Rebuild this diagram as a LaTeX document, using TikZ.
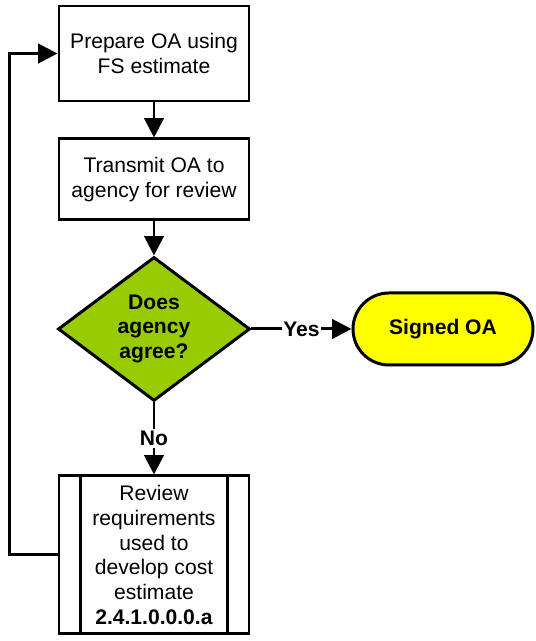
\documentclass[tikz,border=0pt]{standalone}
\usepackage{fontspec}
\setmainfont{Liberation Sans}
\usetikzlibrary{arrows.meta,positioning,shapes.geometric}
\definecolor{Leaf}{HTML}{99CC00}
\definecolor{Lemon}{HTML}{FFFF00}
\tikzset{
  stepbox/.style={draw,line width=1.7pt,fill=white,minimum width=3.8cm,
    align=center,font=\fontsize{12}{14.2}\selectfont,inner sep=2pt},
  decide/.style={diamond,draw,line width=1.7pt,fill=Leaf,minimum width=3.84cm,
    minimum height=2.88cm,aspect=1.33,inner sep=0pt,align=center,
    font=\fontsize{12}{14.2}\selectfont\bfseries},
  terminal/.style={draw,line width=1.7pt,fill=Lemon,rounded corners=.72cm,
    minimum width=3.6cm,minimum height=1.44cm,align=center,
    font=\fontsize{12}{14.2}\selectfont\bfseries},
  arrow/.style={-{Triangle[length=11pt,width=11pt]},line width=1.7pt},
  lbl/.style={fill=white,inner sep=1pt,font=\fontsize{12}{14.2}\selectfont\bfseries}
}
\begin{document}
\begin{tikzpicture}[node distance=.7cm]
  \useasboundingbox (0,0) rectangle (10.7,-12.82);
  \node[stepbox,minimum height=1.9cm] (prep) at (3.08,-1.07) {Prepare OA using\\FS estimate};
  \node[stepbox,minimum height=1.62cm,below=of prep] (send) {Transmit OA to\\agency for review};
  \node[decide,below=.68cm of send] (agree) {Does\\agency\\agree?};
  \node[terminal,right=2cm of agree] (signed) {Signed OA};
  \node[stepbox,minimum height=3.16cm,below=1.44cm of agree] (review)
    {Review\\requirements\\used to\\develop cost\\estimate\\\textbf{2.4.1.0.0.0.a}};
  \draw[line width=1.7pt] ([xshift=.46cm]review.north west) -- ([xshift=.46cm]review.south west);
  \draw[line width=1.7pt] ([xshift=-.46cm]review.north east) -- ([xshift=-.46cm]review.south east);

  \draw[arrow] (prep)--(send); \draw[arrow] (send)--(agree);
  \draw[arrow] (agree)--node[lbl] {Yes} (signed);
  \draw[arrow] (agree)--node[lbl] {No} (review);
  \draw[arrow] (review.west) -- ++(-.96,0) |- (prep.west);
\end{tikzpicture}
\end{document}
